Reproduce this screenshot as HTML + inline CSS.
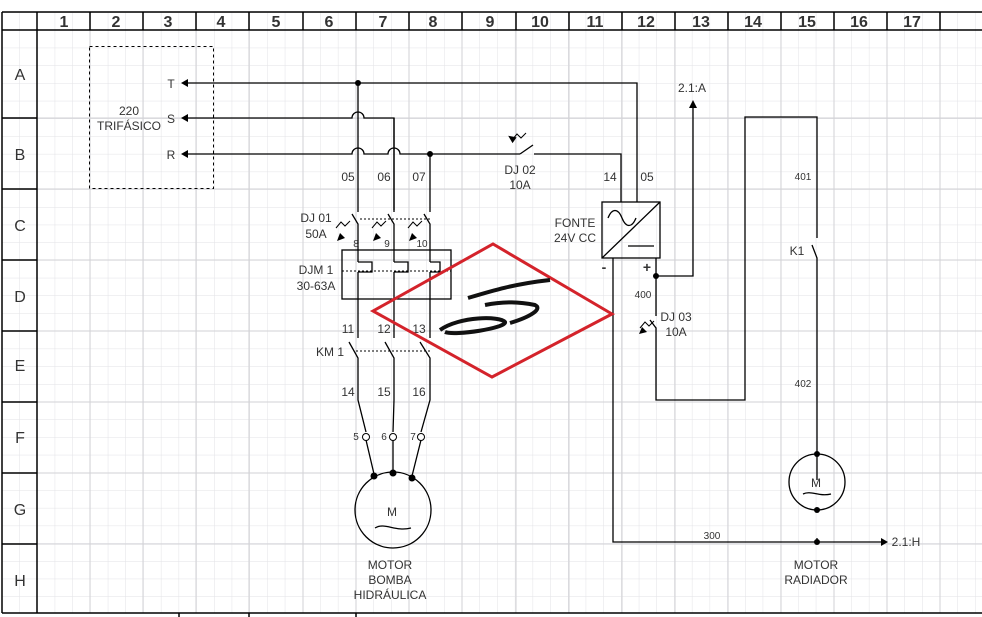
<!DOCTYPE html>
<html><head><meta charset="utf-8"><style>
html,body{margin:0;padding:0;background:#fff}
svg{display:block}
text{font-family:"Liberation Sans",sans-serif;fill:#333}
</style></head><body>
<svg width="982" height="617" viewBox="0 0 982 617" xmlns="http://www.w3.org/2000/svg">
<defs>
<pattern id="g" x="37" y="30" width="17.7" height="17.7" patternUnits="userSpaceOnUse">
<path d="M0 0H17.7M0 0V17.7" stroke="#e2e2e6" stroke-width="1" fill="none"/>
</pattern>
</defs>
<rect x="2" y="12" width="980" height="601" fill="url(#g)"/>
<g stroke="#d2d2d6" stroke-width="1">
<path d="M90 30V613M143 30V613M196 30V613M249 30V613M303 30V613M356 30V613M409 30V613M462 30V613M516 30V613M569 30V613M622 30V613M675 30V613M728 30V613M781 30V613M834 30V613M887 30V613M940 30V613"/>
<path d="M37 118H982M37 189H982M37 260H982M37 331H982M37 402H982M37 473H982M37 544H982"/>
</g>
<!-- header -->
<rect x="0" y="0" width="982" height="12" fill="#fff"/>
<g stroke="#000" stroke-width="1.5" fill="none">
<path d="M2 12H982M2 30H982M2 12V613M37 12V613M2 613H982"/>
<path d="M90 12V30M143 12V30M196 12V30M249 12V30M303 12V30M356 12V30M409 12V30M462 12V30M516 12V30M569 12V30M622 12V30M675 12V30M728 12V30M781 12V30M834 12V30M887 12V30M940 12V30"/>
<path d="M2 118H37M2 189H37M2 260H37M2 331H37M2 402H37M2 473H37M2 544H37"/>
<path d="M179 613V617M249 613V617M356 613V617"/>
</g>
<g font-size="16" font-weight="bold" text-anchor="middle" style="fill:#222">
<text x="64" y="27">1</text><text x="116" y="27">2</text><text x="168" y="27">3</text><text x="221" y="27">4</text><text x="276" y="27">5</text><text x="329" y="27">6</text><text x="383" y="27">7</text><text x="433" y="27">8</text><text x="490" y="27">9</text><text x="540" y="27">10</text><text x="595" y="27">11</text><text x="646" y="27">12</text><text x="701" y="27">13</text><text x="753" y="27">14</text><text x="807" y="27">15</text><text x="859" y="27">16</text><text x="912" y="27">17</text>
</g>
<g font-size="16" text-anchor="middle">
<text x="20" y="80">A</text><text x="20" y="160">B</text><text x="20" y="231">C</text><text x="20" y="302">D</text><text x="20" y="371">E</text><text x="20" y="443">F</text><text x="20" y="515">G</text><text x="20" y="586">H</text>
</g>
<!-- source box -->
<rect x="89.5" y="46.5" width="124" height="142" fill="none" stroke="#000" stroke-dasharray="3,3"/>
<g font-size="12" text-anchor="middle">
<text x="129" y="115">220</text><text x="129" y="130">TRIFÁSICO</text>
<text x="171" y="88">T</text><text x="171" y="123">S</text><text x="171" y="159">R</text>
</g>
<g stroke="#000" stroke-width="1.3" fill="none">
<!-- T -->
<path d="M188 83H637V202"/>
<!-- S -->
<path d="M188 118H352a6 6 0 0 1 12 0H394V210"/>
<!-- R -->
<path d="M188 154H352a6 6 0 0 1 12 0H388a6 6 0 0 1 12 0H520"/>
<path d="M534 154H621V202"/>
<path d="M520 154L533 145"/>
<!-- verticals -->
<path d="M358 83V212M394 118V212M430 154V212"/>
<path d="M352 214L358 224V250M388 214L394 224V250M424 214L430 224V250"/>
<path d="M358 262H372V272H358M394 262H408V272H394M430 262H440V272H430"/>
<path d="M358 250V262M358 272V338M394 250V262M394 272V338M430 250V262M430 272V338"/>
<path d="M349 342L358 358V400L366 432M385 342L394 358V400L393 432M420 342L430 358V400L421 432"/>
<path d="M366 440L374 474M393 440V472M421 440L412 476"/>
<!-- DJM box -->
<rect x="342" y="250" width="109" height="49"/>
<!-- fonte -->
<rect x="602" y="202" width="58" height="56"/>
<path d="M602 258L660 202M628 246H654"/>
<path d="M608 218c4-10 10-10 14 0s10 10 14 0"/>
<!-- minus -->
<path d="M613 258V542H885"/>
<!-- plus -->
<path d="M656 258V316M650 320L656 328V400H745V117H817V238M812 245L817 258V480"/>
<path d="M656 276H693V108"/>
<path d="M817 538V542"/>
<!-- motor circles -->
<circle cx="393" cy="510" r="38"/>
<circle cx="817" cy="482" r="28"/>
<path d="M375 528c10-6 20 4 36 0"/>
<path d="M803 494c8-4 16 3 28 0"/>
</g>
<!-- dashed mechanical links -->
<g stroke="#000" stroke-dasharray="2,2" fill="none">
<path d="M360 219H430M342 271H451M356 351H430"/>
</g>
<!-- DJ01 breakers arrows -->
<g stroke="#000" fill="none" stroke-width="1">
<path d="M336 228l5-6 4 4 5-5M372 228l5-6 4 4 5-5M408 228l5-6 4 4 5-5"/>
<path d="M512 140l5-6 4 4 5-5"/>
<path d="M640 328l5-6 4 4 5-5"/>
</g>
<g fill="#000">
<path d="M337 241l8-3-5-5z"/><path d="M373 241l8-3-5-5z"/><path d="M409 241l8-3-5-5z"/>
<path d="M509 135l8 3-5 5z" transform="rotate(-10 513 140)"/>
<path d="M639 334l8-2-5-5z"/>
<!-- arrowheads -->
<path d="M181 83l7-4v8z"/><path d="M181 118l7-4v8z"/><path d="M181 154l7-4v8z"/>
<path d="M693 100l-4 8h8z"/>
<path d="M888 542l-7-4v8z"/>
<!-- junctions -->
<circle cx="358" cy="83" r="3"/><circle cx="430" cy="154" r="3"/><circle cx="656" cy="276" r="3"/>
<circle cx="374" cy="476" r="3.5"/><circle cx="393" cy="473" r="3.5"/><circle cx="412" cy="478" r="3.5"/>
<circle cx="817" cy="454" r="3"/><circle cx="817" cy="510" r="3"/><circle cx="817" cy="542" r="3"/>
</g>
<g fill="#fff" stroke="#000">
<circle cx="366" cy="437" r="3.5"/><circle cx="393" cy="437" r="3.5"/><circle cx="421" cy="437" r="3.5"/>
</g>
<!-- labels -->
<g font-size="12" text-anchor="middle">
<text x="348" y="181">05</text><text x="384" y="181">06</text><text x="419" y="181">07</text>
<text x="520" y="174">DJ 02</text><text x="520" y="189">10A</text>
<text x="610" y="181">14</text><text x="647" y="181">05</text>
<text x="316" y="222">DJ 01</text><text x="316" y="238">50A</text>
<text x="575" y="227">FONTE</text><text x="575" y="242">24V CC</text>
<text x="316" y="274">DJM 1</text><text x="316" y="290">30-63A</text>
<text x="348" y="333">11</text><text x="384" y="333">12</text><text x="419" y="333">13</text>
<text x="330" y="356">KM 1</text>
<text x="348" y="396">14</text><text x="384" y="396">15</text><text x="419" y="396">16</text>
<text x="392" y="516">M</text>
<text x="390" y="569">MOTOR</text><text x="390" y="584">BOMBA</text><text x="390" y="599">HIDRÁULICA</text>
<text x="676" y="321">DJ 03</text><text x="676" y="336">10A</text>
<text x="797" y="255">K1</text>
<text x="816" y="487">M</text>
<text x="816" y="569">MOTOR</text><text x="816" y="584">RADIADOR</text>
<text x="692" y="92">2.1:A</text>
<text x="906" y="546" >2.1:H</text>
<text x="604" y="272" font-size="14" font-weight="bold">-</text><text x="647" y="272" font-size="14" font-weight="bold">+</text>
</g>
<g font-size="10" text-anchor="middle">
<text x="356" y="247">8</text><text x="387" y="247">9</text><text x="422" y="247">10</text>
<text x="356" y="440">5</text><text x="384" y="440">6</text><text x="413" y="440">7</text>
<text x="643" y="298">400</text><text x="803" y="180">401</text><text x="803" y="387">402</text><text x="712" y="539">300</text>
</g>
<!-- red stamp -->
<path d="M373 311L493 244L612 314L492 377Z" fill="none" stroke="#d4232b" stroke-width="3"/>
<path d="M468 298c20-6 45-14 82-18M485 305c20-4 35-3 50 0 8 4-5 12-25 18M440 330c20-14 60-14 65-8 2 6-50 14-60 10" fill="none" stroke="#111" stroke-width="4"/>
</svg>
</body></html>
